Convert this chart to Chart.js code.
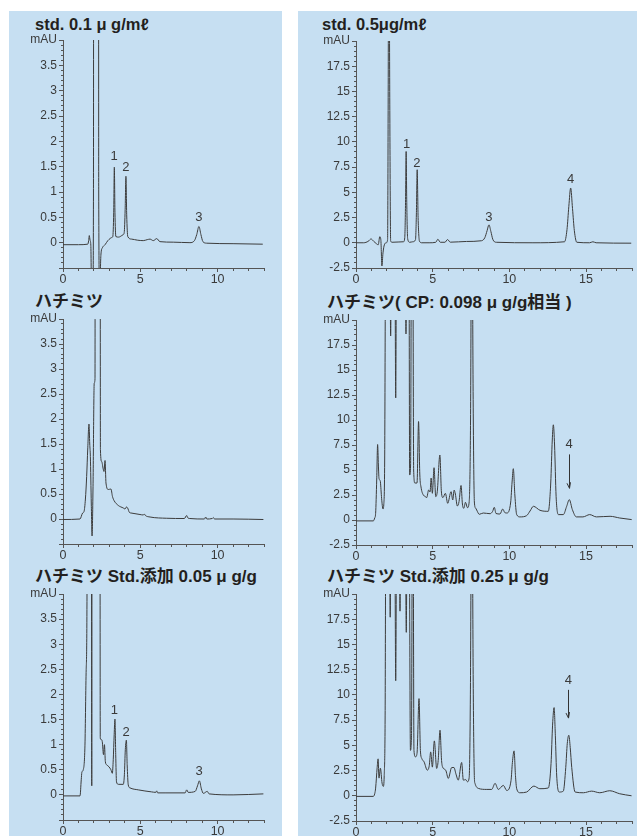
<!DOCTYPE html>
<html><head><meta charset="utf-8">
<script src="https://cdn.jsdelivr.net/npm/chart.js@4.4.1/dist/chart.umd.min.js"></script>
<style>
html,body{margin:0;padding:0;background:#fff;width:637px;height:836px;overflow:hidden;position:relative;}
.bg{position:absolute;background:#c6dff2;}
.title{position:absolute;font-family:"Liberation Sans",Arial,"Noto Sans CJK JP",sans-serif;font-weight:bold;color:#231f20;white-space:nowrap;line-height:1;}
canvas{position:absolute;}
</style></head><body>
<div class="bg" style="left:9px;top:11px;width:273px;height:825px"></div>
<div class="bg" style="left:298px;top:11px;width:339px;height:825px"></div>
<div class="title" style="left:35px;top:16px;font-size:16.5px">std. 0.1 μ g/mℓ</div>
<div class="title" style="left:322px;top:16px;font-size:16.5px">std. 0.5μg/mℓ</div>
<div class="title" style="left:35px;top:293px;font-size:17px">ハチミツ</div>
<div class="title" style="left:327px;top:294px;font-size:17px">ハチミツ( CP: 0.098 μ g/g相当 )</div>
<div class="title" style="left:35px;top:568px;font-size:17px">ハチミツ Std.添加 0.05 μ g/g</div>
<div class="title" style="left:327px;top:568px;font-size:17px">ハチミツ Std.添加 0.25 μ g/g</div>
<canvas id="cA"></canvas><canvas id="cB"></canvas><canvas id="cC"></canvas>
<canvas id="cD"></canvas><canvas id="cE"></canvas><canvas id="cF"></canvas>
<script>
// ---------- data (retention time, min / absorbance, mAU) ----------
const timeA = [0,1.0,1.6,1.66,1.70,1.75,1.80,1.85,1.93,1.97,2.02,2.27,2.31,2.37,2.45,2.55,2.72,2.9,3.04,3.14,3.22,3.28,3.32,3.36,3.42,3.6,3.8,3.9,3.96,4.02,4.07,4.12,4.19,4.44,4.8,5.19,5.45,5.63,5.84,6.06,6.27,7.13,8.21,8.5,8.65,8.79,8.92,9.05,9.29,11.0,12.92];
const absA  = [-0.04,-0.04,-0.03,0.04,0.14,0.05,-0.05,-1,-1,1,60,60,1,-1,-0.25,-0.1,-0.04,0.04,0.08,0.1,0.12,0.6,1.49,0.6,0.12,0.11,0.14,0.16,0.2,0.65,1.31,0.55,0.12,0.07,0.05,0.04,0.06,0.07,0.04,0.08,0.02,0.01,0.0,0.04,0.16,0.32,0.16,0.02,-0.01,-0.02,-0.03];

const timeB = [0,0.5,0.8,0.98,1.15,1.3,1.45,1.55,1.62,1.69,1.76,1.85,1.97,2.06,2.1,2.14,2.2,2.26,2.35,2.8,3.1,3.18,3.23,3.27,3.31,3.37,3.5,3.7,3.88,3.94,3.99,4.05,4.14,4.3,4.82,5.2,5.34,5.5,5.8,5.97,6.15,7.2,8.18,8.4,8.55,8.67,8.8,8.92,9.15,11.54,13.6,13.76,13.88,14.0,14.12,14.24,14.4,15.23,15.45,15.66,17.95];
const absB  = [0,0,0.15,0.38,0.15,-0.05,-0.2,0.6,0.3,-2.3,-1.0,-0.2,0,0.3,15,40,15,0.2,0.05,0.08,0.1,0.5,4,9.05,4,0.4,0.05,0.1,0.3,3,7.24,2.5,0.15,0.0,0.0,0.05,0.35,0.05,0.05,0.32,0.06,0.13,0.2,0.5,1.2,1.78,1.1,0.35,0.05,0.0,0.1,1.3,3.6,5.43,3.4,1.2,0.05,0.0,0.1,0.0,-0.04];

const timeC = [0,1.1,1.27,1.36,1.45,1.53,1.6,1.68,1.73,1.77,1.83,1.88,1.94,2.02,2.07,2.12,2.36,2.42,2.5,2.6,2.65,2.72,2.78,2.93,3.1,3.2,3.3,3.58,3.9,4.01,4.1,4.18,4.3,4.4,4.98,5.2,5.26,5.33,5.63,6.71,7.85,8.0,8.08,8.2,9.15,9.23,9.3,9.65,9.72,9.8,11.0,12.96];
const absC  = [-0.01,0,0.12,0.15,0.4,0.85,1.4,1.9,1.5,1.25,0.3,-0.34,0.6,2.72,2.8,50,50,1.39,1.15,1.0,0.95,1.17,0.72,0.59,0.6,0.45,0.37,0.27,0.22,0.2,0.24,0.22,0.13,0.12,0.09,0.08,0.1,0.07,0.04,0.015,0.01,0.07,0.02,0.01,0.0,0.04,0.0,0.01,0.03,0.0,0.0,-0.01];

const timeD = [0,1.13,1.22,1.28,1.35,1.41,1.46,1.5,1.55,1.59,1.67,1.76,1.81,1.87,1.94,2.2,2.26,2.32,2.53,2.59,2.65,3.2,3.26,3.32,3.45,3.5,3.56,3.62,3.7,3.76,3.84,3.98,4.08,4.16,4.24,4.39,4.5,4.61,4.74,4.83,4.9,4.98,5.09,5.2,5.3,5.47,5.57,5.67,5.83,5.98,6.2,6.31,6.4,6.48,6.61,6.72,6.85,6.94,7.03,7.14,7.27,7.38,7.47,7.55,7.65,7.72,7.8,7.87,8.04,8.3,8.74,8.91,9.02,9.13,9.39,9.57,9.7,9.83,10.09,10.18,10.26,10.36,10.48,10.7,11.13,11.35,11.57,12.0,12.54,12.7,12.8,12.87,12.95,13.05,13.2,13.52,13.74,13.91,14.11,14.37,14.8,15.24,15.68,16.57,17.2,17.98];
const absD  = [-0.09,-0.09,0.2,0.67,4,7.55,5.5,4.16,4.0,3.83,2.17,1.1,1.5,6,30,30,18.4,30,30,12.2,30,30,18.6,30,30,4.5,5.5,30,30,5,3.7,3.7,9.85,4.6,3.3,2.5,2.37,2.24,3.0,2.8,4.2,2.67,5.23,2.34,2.83,6.5,2.8,2.24,2.67,1.67,2.83,2.0,2.99,2.6,1.4,1.84,3.45,1.6,1.17,1.77,1.23,1.8,10,35,10,1.8,1.2,1.0,0.57,0.7,0.63,0.86,1.27,0.65,0.6,1.1,0.75,0.7,1.8,3.8,5.13,2.5,0.54,0.31,0.44,0.9,1.37,0.97,0.87,3.7,8.0,9.52,7.5,2.37,0.54,0.54,1.37,2.04,1.04,0.31,0.31,0.54,0.31,0.37,0.2,0.04];

const timeE = [0,1.1,1.18,1.22,1.31,1.42,1.5,1.57,1.62,1.8,1.86,1.9,2.34,2.41,2.48,2.54,2.62,2.68,2.74,2.82,2.97,3.1,3.19,3.25,3.31,3.36,3.41,3.46,3.58,3.9,3.97,4.03,4.1,4.15,4.22,4.33,4.87,5.73,6.0,6.06,6.12,6.6,7.9,8.0,8.1,8.55,8.7,8.82,8.95,9.08,9.33,9.45,11.0,12.96];
const absE  = [-0.02,-0.02,0.3,0.45,0.5,0.99,2.5,6,50,50,0.18,50,50,1.13,1.1,1.06,0.8,1.0,0.66,0.6,0.56,0.5,0.43,0.7,1.2,1.51,0.8,0.26,0.21,0.21,0.4,0.9,1.09,0.6,0.2,0.14,0.1,0.06,0.05,0.08,0.04,0.04,0.04,0.1,0.05,0.07,0.18,0.28,0.12,0.03,0.07,0.02,0.0,0.02];

const timeF = [0,1.13,1.22,1.28,1.38,1.44,1.5,1.59,1.7,1.78,1.84,1.9,1.95,2.18,2.23,2.28,2.52,2.59,2.66,2.82,2.87,2.92,3.2,3.28,3.34,3.46,3.55,3.62,3.68,3.72,3.78,3.88,3.98,4.11,4.2,4.29,4.44,4.65,4.78,4.87,4.98,5.11,5.26,5.36,5.48,5.58,5.65,5.85,6.02,6.24,6.39,6.52,6.67,6.89,7.0,7.16,7.27,7.38,7.46,7.55,7.65,7.72,7.76,7.98,8.53,8.85,9.07,9.28,9.61,9.83,10.11,10.2,10.31,10.4,10.48,10.7,11.13,11.6,11.99,12.54,12.72,12.82,12.92,13.0,13.09,13.26,13.52,13.68,13.78,13.88,13.97,14.07,14.29,14.83,15.37,15.9,16.55,17.2,17.97];
const absF  = [-0.06,-0.06,0.2,0.76,2.8,3.66,1.75,2.74,1.26,0.93,2,8,30,30,17.7,30,30,11.4,30,30,18.3,30,30,16.2,30,30,4.5,6,30,30,4.5,3.86,4.2,9.63,4.5,3.7,3.36,2.54,3.0,4.35,2.84,5.44,2.71,3.5,6.5,3.5,2.84,2.54,1.72,2.8,2.8,2.15,1.55,3.3,1.55,1.6,1.39,1.8,10,35,10,1.8,1.23,0.73,0.63,0.63,1.23,0.63,1.03,0.53,1.5,3.3,4.45,2.0,0.7,0.3,0.37,0.96,0.7,0.77,3.2,7.0,8.74,6.0,1.96,0.37,0.46,2.8,5.2,6.0,4.8,2.8,0.37,0.3,0.46,0.3,0.5,0.2,0.0];

// peak numbers [text, time, mAU] and arrows [time, from mAU, to mAU]
const peaksA = [['1',3.3,1.7],['2',4.07,1.49],['3',8.79,0.5]];
const peaksB = [['1',3.3,9.71],['2',3.97,7.9],['3',8.66,2.56],['4',14.0,6.25]];
const peaksE = [['1',3.32,1.69],['2',4.08,1.24],['3',8.8,0.46]];
const peaksD = [['4',13.9,7.55]];
const arrowD = [[13.9,6.56,3.17]];
const peaksF = [['4',13.85,11.4]];
const arrowF = [[13.85,10.5,7.7]];

// ---------- rendering ----------
const FONT = '"Liberation Sans", Arial, sans-serif';
const TXT = '#3a3a3a';
const AX = '#555';

const annot = {
  id: 'annot',
  afterDatasetsDraw(chart, args, opts) {
    const {ctx, scales: {x, y}} = chart;
    ctx.save();
    ctx.fillStyle = TXT;
    ctx.font = '13px ' + FONT;
    ctx.textAlign = 'center';
    ctx.textBaseline = 'middle';
    (opts.labels || []).forEach(([t, vx, vy]) => ctx.fillText(t, x.getPixelForValue(vx), y.getPixelForValue(vy)));
    ctx.strokeStyle = '#333';
    ctx.lineWidth = 1;
    (opts.arrows || []).forEach(([vx, v1, v2]) => {
      const px = Math.round(x.getPixelForValue(vx)) + 0.5;
      const p1 = y.getPixelForValue(v1), p2 = y.getPixelForValue(v2);
      ctx.beginPath();
      ctx.moveTo(px, p1); ctx.lineTo(px, p2);
      ctx.moveTo(px - 2.5, p2 - 5); ctx.lineTo(px, p2); ctx.lineTo(px + 1, p2 - 6);
      ctx.stroke();
    });
    ctx.restore();
  }
};

function near(v, step) { return Math.abs(v / step - Math.round(v / step)) < 1e-6; }

function makeChart(id, times, vals, area, panel, small, labels, arrows) {
  // area: [left, top, right, bottom] of plot area in page px; panel: page left of canvas
  const [left, top, right, bottom] = area;
  const padTop = 10, padRight = 4, xH = 22;
  const L = panel, T = top - padTop;
  const W = right + padRight - L, H = bottom + xH - T;
  const cv = document.getElementById(id);
  cv.width = W; cv.height = H;
  cv.style.left = L + 'px'; cv.style.top = T + 'px';
  cv.style.width = W + 'px'; cv.style.height = H + 'px';
  const yW = left - L;
  const xMax = small ? 13 : 18;
  const yMin = small ? -0.5 : -2.5, yMax = small ? 4 : 20;
  const yStep = small ? 0.1 : 0.5, yMajor = small ? 0.5 : 2.5;
  new Chart(cv, {
    type: 'line',
    data: {
      datasets: [{
        data: times.map((t, i) => ({x: t, y: vals[i]})),
        borderColor: '#3c3c3c',
        borderWidth: 1,
        pointRadius: 0,
        cubicInterpolationMode: 'monotone',
        fill: false
      }]
    },
    options: {
      responsive: false,
      devicePixelRatio: 1,
      animation: false,
      layout: {padding: {top: padTop, right: padRight, left: 0, bottom: 0}},
      plugins: {legend: {display: false}, tooltip: {enabled: false}, title: {display: false},
        annot: {labels: labels || [], arrows: arrows || []}},
      scales: {
        x: {
          type: 'linear', min: 0, max: xMax,
          afterFit: s => { s.height = xH; },
          border: {display: true, color: AX, width: 1},
          grid: {drawOnChartArea: false, drawTicks: true, tickLength: 4, tickColor: AX,
            tickBorderDash: c => near(c.tick.value, 5) ? [] : [2, 2]},
          ticks: {stepSize: 1, autoSkip: false, maxRotation: 0, padding: 0, color: TXT,
            font: {family: FONT, size: 12.5},
            callback: v => near(v, 5) ? String(v) : ''}
        },
        y: {
          type: 'linear', min: yMin, max: yMax,
          afterFit: s => { s.width = yW; },
          border: {display: true, color: AX, width: 1},
          grid: {drawOnChartArea: false, drawTicks: true, tickLength: 4, tickColor: AX,
            tickBorderDash: c => near(c.tick.value, yMajor) ? [] : [2, 2],
            tickBorderDashOffset: c => near(c.tick.value, yMajor) ? 0 : 2},
          ticks: {stepSize: yStep, autoSkip: false, padding: 2, color: TXT,
            font: {family: FONT, size: 12},
            callback: v => {
              const r = Math.round(v * 100) / 100;
              if (!near(r, yMajor)) return '';
              if (r >= yMax - 1e-9) return 'mAU';
              if (small && r < 0) return '';
              return String(r);
            }}
        }
      }
    },
    plugins: [annot]
  });
}

makeChart('cA', timeA, absA, [63, 40, 264, 268], 9, true, peaksA);
makeChart('cB', timeB, absB, [356, 41, 632, 268], 298, false, peaksB);
makeChart('cC', timeC, absC, [63, 319, 264, 544], 9, true);
makeChart('cD', timeD, absD, [356, 320, 632, 545], 298, false, peaksD, arrowD);
makeChart('cE', timeE, absE, [63, 594, 264, 820], 9, true, peaksE);
makeChart('cF', timeF, absF, [356, 594, 632, 821], 298, false, peaksF, arrowF);
</script>
</body></html>
